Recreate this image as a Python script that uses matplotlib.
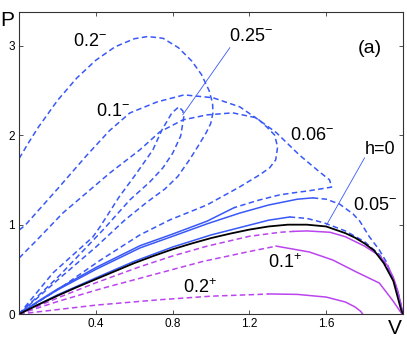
import matplotlib
matplotlib.use("Agg")
import matplotlib.pyplot as plt

plt.rcParams['font.family'] = ['Liberation Sans', 'DejaVu Sans']
plt.rcParams['mathtext.fontset'] = 'custom'
plt.rcParams['mathtext.rm'] = 'Liberation Sans'
plt.rcParams['mathtext.it'] = 'Liberation Sans'

BLUE = '#3858f8'
MAG = '#bb44ee'
DASH = (0, (3.6, 2.2))

# h = 0 (black)
h0_V = [0, 0.1, 0.2, 0.3, 0.4, 0.5, 0.6, 0.7, 0.8, 0.9, 1.0, 1.1, 1.2, 1.3, 1.4, 1.5, 1.6, 1.7, 1.75, 1.8, 1.85, 1.9, 1.95, 1.97, 1.99, 2.0]
h0_P = [0, 0.105, 0.205, 0.3, 0.39, 0.48, 0.57, 0.65, 0.725, 0.79, 0.85, 0.9, 0.945, 0.98, 1.0, 1.0, 0.98, 0.905, 0.855, 0.79, 0.71, 0.57, 0.37, 0.21, 0.05, 0]

# small h- curve just above h=0 (solid then dashed)
b1s_V = [0, 0.2, 0.4, 0.6, 0.8, 1.0, 1.2, 1.3, 1.41]
b1s_P = [0, 0.215, 0.405, 0.59, 0.75, 0.885, 0.995, 1.05, 1.086]
b1d_V = [1.41, 1.5, 1.59, 1.7, 1.8, 1.88, 1.94, 1.98, 2.0]
b1d_P = [1.086, 1.07, 1.02, 0.93, 0.81, 0.66, 0.45, 0.2, 0]

# 0.05- (solid then dashed)
a1s_V = [0, 0.1, 0.2, 0.4, 0.63, 0.8, 0.98, 1.15, 1.3, 1.45, 1.53]
a1s_P = [0, 0.14, 0.27, 0.5, 0.74, 0.87, 1.01, 1.13, 1.22, 1.285, 1.30]
a1d_V = [1.53, 1.6, 1.67, 1.74, 1.775, 1.826, 1.877, 1.914, 1.945, 1.971, 1.99, 2.0]
a1d_P = [1.30, 1.285, 1.23, 1.12, 1.04, 0.862, 0.717, 0.582, 0.414, 0.27, 0.1, 0]

# 0.1- (dashed loop, returning as solid)
a2d_V = [0, 0.03, 0.2, 0.35, 0.47, 0.577, 0.72, 0.86, 1.01, 1.15, 1.25, 1.34, 1.46, 1.56, 1.618, 1.628,
         1.513, 1.425, 1.357, 1.253, 1.2, 1.12]
a2d_P = [0.94, 0.99, 1.40, 1.77, 2.05, 2.25, 2.374, 2.452, 2.42, 2.318, 2.17, 2.03, 1.78, 1.6, 1.5, 1.42,
         1.38, 1.355, 1.333, 1.277, 1.243, 1.19]
a2s_V = [1.12, 0.98, 0.8, 0.63, 0.4, 0.2, 0.1, 0]
a2s_P = [1.19, 1.04, 0.895, 0.765, 0.52, 0.28, 0.145, 0]

# 0.06- (dashed loop)
c6_V = [0, 0.093, 0.228, 0.473, 0.629, 0.733, 0.853, 0.978, 1.113, 1.238, 1.29, 1.331, 1.347, 1.337, 1.305,
        1.253, 1.149, 0.978, 0.785, 0.629, 0.421, 0.213, 0]
c6_P = [0.627, 0.829, 1.131, 1.579, 1.837, 2.038, 2.172, 2.228, 2.251, 2.195, 2.094, 2.004, 1.87, 1.725, 1.635,
        1.557, 1.422, 1.22, 1.053, 0.885, 0.6, 0.29, 0]

# 0.2- (dashed loop)
c2_V = [0, 0.05, 0.1, 0.2, 0.3, 0.4, 0.5, 0.6, 0.67, 0.75, 0.83, 0.9, 0.95, 0.99, 1.008, 1.01, 0.998,
        0.975, 0.93, 0.889, 0.827, 0.76, 0.665, 0.55, 0.4, 0.2, 0]
c2_P = [1.74, 1.92, 2.09, 2.39, 2.64, 2.84, 2.99, 3.08, 3.105, 3.085, 2.98, 2.83, 2.68, 2.5, 2.36, 2.25, 2.13,
        2.03, 1.87, 1.73, 1.54, 1.40, 1.25, 1.05, 0.75, 0.38, 0]

# 0.25- (dashed narrow loop)
c25_V = [0, 0.176, 0.384, 0.421, 0.521, 0.613, 0.697, 0.744, 0.796, 0.832, 0.853, 0.858,
         0.842, 0.801, 0.749, 0.681, 0.577, 0.437, 0.213, 0]
c25_P = [0, 0.46, 0.862, 0.974, 1.31, 1.579, 1.837, 2.06, 2.25, 2.318, 2.273, 2.206,
         1.993, 1.803, 1.635, 1.478, 1.277, 0.941, 0.437, 0]

# magenta h+ curves
m1d_V = [0, 0.2, 0.4, 0.63, 0.8, 0.98, 1.2, 1.36, 1.43]
m1d_P = [0, 0.18, 0.35, 0.53, 0.65, 0.76, 0.87, 0.915, 0.925]
m1s_V = [1.43, 1.5, 1.62, 1.7, 1.8, 1.88, 1.92, 1.95, 1.97, 1.99, 2.0]
m1s_P = [0.925, 0.93, 0.915, 0.865, 0.76, 0.65, 0.54, 0.41, 0.28, 0.1, 0]

m2d_V = [0, 0.2, 0.437, 0.629, 0.733, 0.96, 1.2, 1.34]
m2d_P = [0, 0.14, 0.29, 0.40, 0.46, 0.59, 0.70, 0.76]
m2s_V = [1.34, 1.513, 1.634, 1.758, 1.877, 1.945, 1.992, 2.0]
m2s_P = [0.76, 0.694, 0.605, 0.47, 0.347, 0.157, 0.01, 0]

m3d_V = [0, 0.4, 0.73, 1.0, 1.25, 1.3]
m3d_P = [0, 0.1, 0.16, 0.2, 0.22, 0.225]
m3s_V = [1.3, 1.45, 1.6, 1.7, 1.75, 1.78, 1.79]
m3s_P = [0.225, 0.22, 0.19, 0.135, 0.08, 0.03, 0]

xticks = [0.4, 0.8, 1.2, 1.6]
xticklabels = ['0.4', '0.8', '1.2', '1.6']
yticks = [0, 1, 2, 3]
yticklabels = ['0', '1', '2', '3']

fig = plt.figure(figsize=(4.07, 3.41), dpi=100)
ax = fig.add_axes([0.047, 0.079, 0.943, 0.886])

lw = 1.1
ax.plot(c2_V, c2_P, color=BLUE, lw=lw, ls=DASH)
ax.plot(c25_V, c25_P, color=BLUE, lw=lw, ls=DASH)
ax.plot(c6_V, c6_P, color=BLUE, lw=lw, ls=DASH)
ax.plot(a2d_V, a2d_P, color=BLUE, lw=lw, ls=DASH)
ax.plot(a2s_V, a2s_P, color=BLUE, lw=lw)
ax.plot(a1s_V, a1s_P, color=BLUE, lw=lw)
ax.plot(a1d_V, a1d_P, color=BLUE, lw=lw, ls=DASH)
ax.plot(b1s_V, b1s_P, color=BLUE, lw=lw)
ax.plot(b1d_V, b1d_P, color=BLUE, lw=lw, ls=DASH)
ax.plot(m1d_V, m1d_P, color=MAG, lw=lw, ls=DASH)
ax.plot(m1s_V, m1s_P, color=MAG, lw=lw)
ax.plot(m2d_V, m2d_P, color=MAG, lw=lw, ls=DASH)
ax.plot(m2s_V, m2s_P, color=MAG, lw=lw)
ax.plot(m3d_V, m3d_P, color=MAG, lw=lw, ls=DASH)
ax.plot(m3s_V, m3s_P, color=MAG, lw=lw)
ax.plot(h0_V, h0_P, color='black', lw=1.3)

# pointer lines
ax.plot([1.098, 0.853], [2.98, 2.23], color=BLUE, lw=0.6)
ax.plot([1.80, 1.602], [1.747, 0.997], color=BLUE, lw=0.6)

fs = 13
ax.text(0.369, 3.05, r'$\mathrm{0.2}^{-}$', fontsize=fs, ha='center', va='center')
ax.text(0.489, 2.27, r'$\mathrm{0.1}^{-}$', fontsize=fs, ha='center', va='center')
ax.text(1.207, 3.11, r'$\mathrm{0.25}^{-}$', fontsize=fs, ha='center', va='center')
ax.text(1.524, 2.0, r'$\mathrm{0.06}^{-}$', fontsize=fs, ha='center', va='center')
ax.text(1.852, 1.22, r'$\mathrm{0.05}^{-}$', fontsize=fs, ha='center', va='center')
ax.text(1.384, 0.58, r'$\mathrm{0.1}^{+}$', fontsize=fs, ha='center', va='center')
ax.text(0.941, 0.30, r'$\mathrm{0.2}^{+}$', fontsize=fs, ha='center', va='center')
ax.text(1.883, 1.84, 'h=0', fontsize=fs, ha='center', va='center')
ax.text(1.83, 2.97, '(a)', fontsize=14, ha='center', va='center')

ax.set_xlim(0, 2)
ax.set_ylim(0, 3.38)
ax.set_xticks(xticks)
ax.set_xticklabels(xticklabels)
ax.set_yticks(yticks)
ax.set_yticklabels(yticklabels)
ax.tick_params(direction='in', top=True, right=True, length=3, width=0.6,
               labelsize=8.5, pad=3, colors='#333333', labelcolor='black')
for s in ax.spines.values():
    s.set_linewidth(0.8)
    s.set_color('#333333')

fig.text(7 / 407, 1 - 20 / 341, 'P', fontsize=15, ha='center', va='center')
fig.text(395 / 407, 1 - 328 / 341, 'V', fontsize=15, ha='center', va='center')

fig.savefig('out.png', dpi=100)
